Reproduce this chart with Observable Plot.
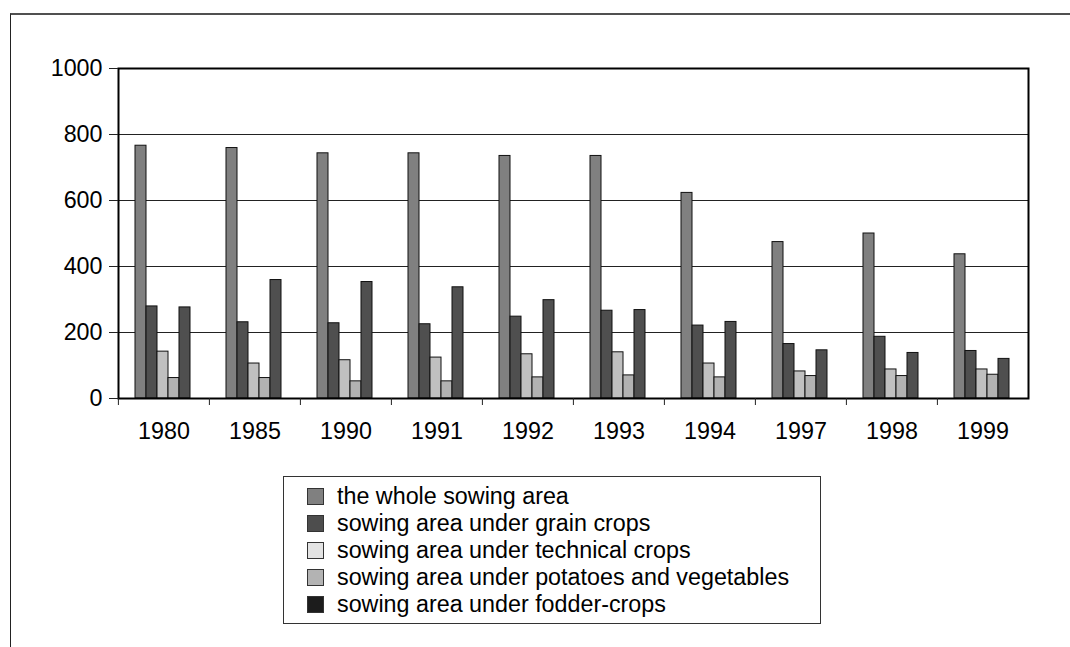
<!DOCTYPE html>
<html>
<head>
<meta charset="utf-8">
<script src="https://cdn.jsdelivr.net/npm/d3@7"></script>
<script src="https://cdn.jsdelivr.net/npm/@observablehq/plot@0.6"></script>
<style>
  html, body { margin: 0; padding: 0; background: white; }
  #wrap { position: relative; width: 1070px; height: 647px; overflow: hidden; background: white;
          font-family: "Liberation Sans", Arial, sans-serif; }
  #outer { position: absolute; left: 10px; top: 13px; width: 1200px; height: 800px;
           border-top: 2px solid #505050; border-left: 1px solid #222; }
  #chart { position: absolute; left: 0; top: 0; }
  #legend { position: absolute; left: 283px; top: 476px; width: 538px; height: 148px;
            border: 1px solid #333; box-sizing: border-box; padding: 6px 0 0 23px; background: white; }
  .row { display: flex; align-items: center; height: 27px; font-size: 23.3px; color: #000; white-space: nowrap; }
  .sw { width: 17px; height: 17px; box-sizing: border-box; border: 1px solid #333; margin-right: 13px; flex: none; }
</style>
</head>
<body>
<div id="wrap">
  <div id="outer"></div>
  <div id="chart"></div>
  <div id="legend"></div>
</div>
<script>
const years = ["1980", "1985", "1990", "1991", "1992", "1993", "1994", "1997", "1998", "1999"];
const seriesNames = [
  "the whole sowing area",
  "sowing area under grain crops",
  "sowing area under technical crops",
  "sowing area under potatoes and vegetables",
  "sowing area under fodder-crops"
];
const wholeArea     = [766, 759, 743, 743, 735, 735, 623, 474, 500, 437];
const grainCrops    = [279, 231, 228, 225, 248, 266, 221, 165, 187, 144];
const technicalCrops= [142, 106, 116, 124, 134, 140, 106,  82,  88,  88];
const potatoesVeg   = [ 62,  62,  52,  52,  64,  70,  64,  68,  68,  72];
const fodderCrops   = [276, 359, 353, 337, 298, 268, 232, 146, 138, 120];
const yTicks = [0, 200, 400, 600, 800, 1000];
const gridValues = [200, 400, 600, 800];
const barColors = ["#808080", "#4f4f4f", "#c0c0c0", "#b2b2b2", "#4f4f4f"];
const legendColors = ["#808080", "#4d4d4d", "#e3e3e3", "#b3b3b3", "#1c1c1c"];

const seriesValues = [wholeArea, grainCrops, technicalCrops, potatoesVeg, fodderCrops];
const rows = years.flatMap((yr, i) => seriesNames.map((s, j) => ({year: yr, series: s, value: seriesValues[j][i]})));

const chart = Plot.plot({
  width: 1070,
  height: 450,
  marginLeft: 117,
  marginRight: 41,
  marginTop: 68,
  marginBottom: 52,
  style: {fontFamily: "'Liberation Sans', Arial, sans-serif", fontSize: "23.3px", background: "none", color: "black", overflow: "visible"},
  fx: {domain: years, padding: 0, label: null},
  x: {domain: seriesNames, paddingInner: 0, paddingOuter: 1.4, align: 0.46, axis: null},
  y: {domain: [0, 1000]},
  color: {domain: seriesNames, range: barColors},
  marks: [
    Plot.ruleY(gridValues, {stroke: "#222", strokeWidth: 1}),
    Plot.barY(rows, {fx: "year", x: "series", y: "value", fill: "series", stroke: "#111", strokeWidth: 1}),
    Plot.frame({facet: "super", stroke: "black", strokeWidth: 2}),
    Plot.axisY(yTicks, {tickSize: 9, tickPadding: 7, label: null, tickFormat: d => String(d), stroke: "#222"}),
    Plot.axisFx({anchor: "bottom", tickSize: 0, tickPadding: 24, label: null}),
    Plot.axisFx({anchor: "bottom", tickSize: 7, tickFormat: () => "", dx: -45.6, label: null, stroke: "#222"})
  ]
});
document.getElementById("chart").appendChild(chart);

const legend = document.getElementById("legend");
seriesNames.forEach((name, i) => {
  const row = document.createElement("div");
  row.className = "row";
  const sw = document.createElement("span");
  sw.className = "sw";
  sw.style.background = legendColors[i];
  const t = document.createElement("span");
  t.textContent = name;
  row.appendChild(sw);
  row.appendChild(t);
  legend.appendChild(row);
});
</script>
</body>
</html>
